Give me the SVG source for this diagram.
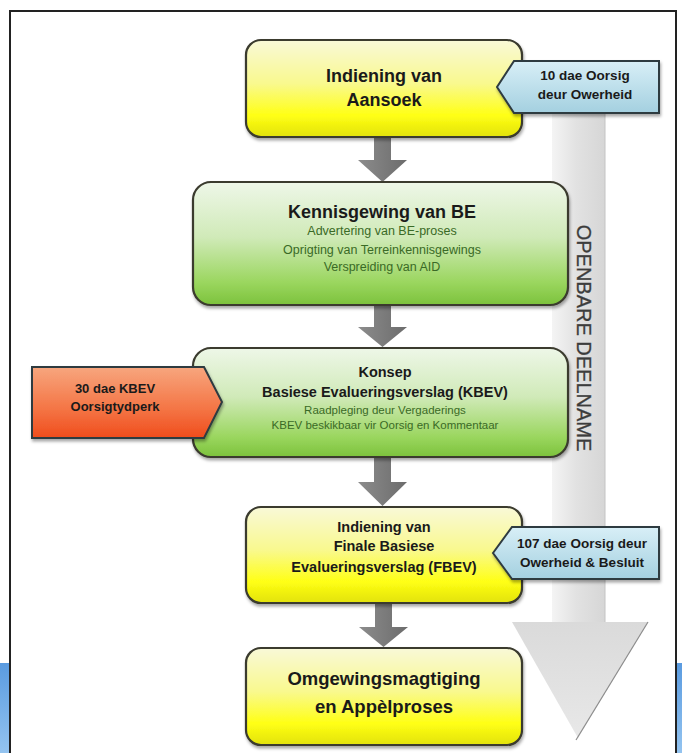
<svg xmlns="http://www.w3.org/2000/svg" width="682" height="753" viewBox="0 0 682 753">
<defs>
<linearGradient id="gYellow" x1="0" y1="0" x2="0" y2="1">
<stop offset="0" stop-color="#f9f9d8"/><stop offset="0.45" stop-color="#f9f98e"/><stop offset="0.78" stop-color="#ffff14"/><stop offset="1" stop-color="#e2e20a"/>
</linearGradient>
<linearGradient id="gGreen" x1="0" y1="0" x2="0" y2="1">
<stop offset="0" stop-color="#eef7e8"/><stop offset="0.45" stop-color="#d0eab8"/><stop offset="0.82" stop-color="#9ad65e"/><stop offset="1" stop-color="#7cc23c"/>
</linearGradient>
<linearGradient id="gBlue" x1="0" y1="0" x2="0" y2="1">
<stop offset="0" stop-color="#d8eff7"/><stop offset="1" stop-color="#a4d0e0"/>
</linearGradient>
<linearGradient id="gOrange" x1="0" y1="0" x2="0" y2="1">
<stop offset="0" stop-color="#f7a67e"/><stop offset="0.6" stop-color="#f47444"/><stop offset="1" stop-color="#f04c1c"/>
</linearGradient>
<linearGradient id="gArrow" x1="0" y1="0" x2="1" y2="0">
<stop offset="0" stop-color="#8c8c8c"/><stop offset="1" stop-color="#6c6c6c"/>
</linearGradient>
<linearGradient id="gShaft" x1="0" y1="0" x2="1" y2="0">
<stop offset="0" stop-color="#f4f4f4"/><stop offset="0.45" stop-color="#e2e2e2"/><stop offset="1" stop-color="#d6d6d6"/>
</linearGradient>
<linearGradient id="gHead" x1="0" y1="0" x2="0" y2="1">
<stop offset="0" stop-color="#dadada"/><stop offset="1" stop-color="#e8e8e8"/>
</linearGradient>
<linearGradient id="gStrip" x1="0" y1="0" x2="0" y2="1">
<stop offset="0" stop-color="#5a9be0"/><stop offset="1" stop-color="#94c4f0"/>
</linearGradient>
<filter id="shadow" x="-10%" y="-10%" width="120%" height="130%">
<feDropShadow dx="1" dy="2.5" stdDeviation="1.5" flood-color="#000" flood-opacity="0.35"/>
</filter>
<style>
.box{stroke:#3a3a2e;stroke-width:2.2;filter:url(#shadow)}
.yel{fill:url(#gYellow)}
.grn{fill:url(#gGreen)}
.call{stroke:#2e3a40;stroke-width:2;filter:url(#shadow)}
.t{font-family:"Liberation Sans",Arial,sans-serif;text-anchor:middle;font-weight:bold;fill:#1a1a1a}
.sub{font-family:"Liberation Sans",Arial,sans-serif;text-anchor:middle;fill:#3a6a26}
.arr{fill:url(#gArrow)}
</style>
</defs>

<rect x="0" y="0" width="682" height="753" fill="#ffffff"/>
<rect x="0" y="663" width="9" height="90" fill="url(#gStrip)"/>
<rect x="677" y="663" width="5" height="90" fill="url(#gStrip)"/>
<path d="M10,753 V11 H676 V753" fill="none" stroke="#222" stroke-width="2"/>

<g id="openbare-deelname">
<rect x="552" y="60" width="53" height="563" fill="url(#gShaft)"/>
<line x1="605" y1="113" x2="605" y2="622" stroke="#c4c4c4" stroke-width="1"/>
<polygon points="512,622 648,622 578,738" fill="url(#gHead)"/>
<line x1="648" y1="622" x2="576" y2="740" stroke="#8c8c8c" stroke-width="1.2"/>
<text transform="translate(577,338) rotate(90)" font-family="'Liberation Sans',Arial,sans-serif" font-size="20" fill="#3c3c3c" stroke="#3c3c3c" stroke-width="0.3" text-anchor="middle">OPENBARE DEELNAME</text>
</g>

<g id="connectors">
<polygon class="arr" points="374,137 391,137 391,160 407,160 382.5,182 358,160 374,160"/>
<polygon class="arr" points="374,305 391,305 391,327 407,327 382.5,347 358,327 374,327"/>
<polygon class="arr" points="374,457 391,457 391,482 407,482 382.5,506 358,482 374,482"/>
<polygon class="arr" points="375,603 392,603 392,627 408,627 383.5,647 359,627 375,627"/>
</g>

<g id="node-aansoek">
<rect class="box yel" x="246" y="40" width="276" height="97" rx="15"/>
<text class="t" x="384" y="82" font-size="18">Indiening van</text>
<text class="t" x="384" y="106" font-size="18">Aansoek</text>
</g>

<g id="node-kennisgewing">
<rect class="box grn" x="193" y="182" width="375" height="123" rx="18"/>
<text class="t" x="382" y="218" font-size="18">Kennisgewing van BE</text>
<text class="sub" x="382" y="235" font-size="12.5">Advertering van BE-proses</text>
<text class="sub" x="382" y="254" font-size="12.5">Oprigting van Terreinkennisgewings</text>
<text class="sub" x="382" y="271" font-size="12.5">Verspreiding van AID</text>
</g>

<g id="node-kbev">
<rect class="box grn" x="193" y="348" width="375" height="109" rx="18"/>
<text class="t" x="385" y="377" font-size="14.5">Konsep</text>
<text class="t" x="385" y="397" font-size="14.5">Basiese Evalueringsverslag (KBEV)</text>
<text class="sub" x="385" y="414" font-size="11.5" fill="#4a6a3a">Raadpleging deur Vergaderings</text>
<text class="sub" x="385" y="429" font-size="11.5" fill="#4a6a3a">KBEV beskikbaar vir Oorsig en Kommentaar</text>
</g>

<g id="node-fbev">
<rect class="box yel" x="246" y="507" width="276" height="96" rx="15"/>
<text class="t" x="384" y="532" font-size="14.5">Indiening van</text>
<text class="t" x="384" y="551" font-size="14.5">Finale Basiese</text>
<text class="t" x="384" y="572" font-size="14.5">Evalueringsverslag (FBEV)</text>
</g>

<g id="node-magtiging">
<rect class="box yel" x="246" y="648" width="276" height="97" rx="15"/>
<text class="t" x="384" y="685" font-size="18.5">Omgewingsmagtiging</text>
<text class="t" x="384" y="713" font-size="18.5">en Appèlproses</text>
</g>

<g id="callout-10-dae">
<polygon class="call" points="497,87 514,61 659,61 659,113 514,113" fill="url(#gBlue)"/>
<text class="t" x="585" y="80" font-size="13.5" fill="#1c2a36">10 dae Oorsig</text>
<text class="t" x="585" y="99" font-size="13.5" fill="#1c2a36">deur Owerheid</text>
</g>

<g id="callout-107-dae">
<polygon class="call" points="493,553 512,527 659,527 659,579 512,579" fill="url(#gBlue)"/>
<text class="t" x="582" y="548" font-size="13.5" fill="#1c2a36">107 dae Oorsig deur</text>
<text class="t" x="582" y="567" font-size="13.5" fill="#1c2a36">Owerheid &amp; Besluit</text>
</g>

<g id="callout-30-dae">
<polygon class="call" points="32,367 204,367 222,402 204,438 32,438" fill="url(#gOrange)" stroke="#4a2a1a"/>
<text class="t" x="115" y="393" font-size="13" fill="#3a1408">30 dae KBEV</text>
<text class="t" x="115" y="411" font-size="13" fill="#4a0c04">Oorsigtydperk</text>
</g>
</svg>
